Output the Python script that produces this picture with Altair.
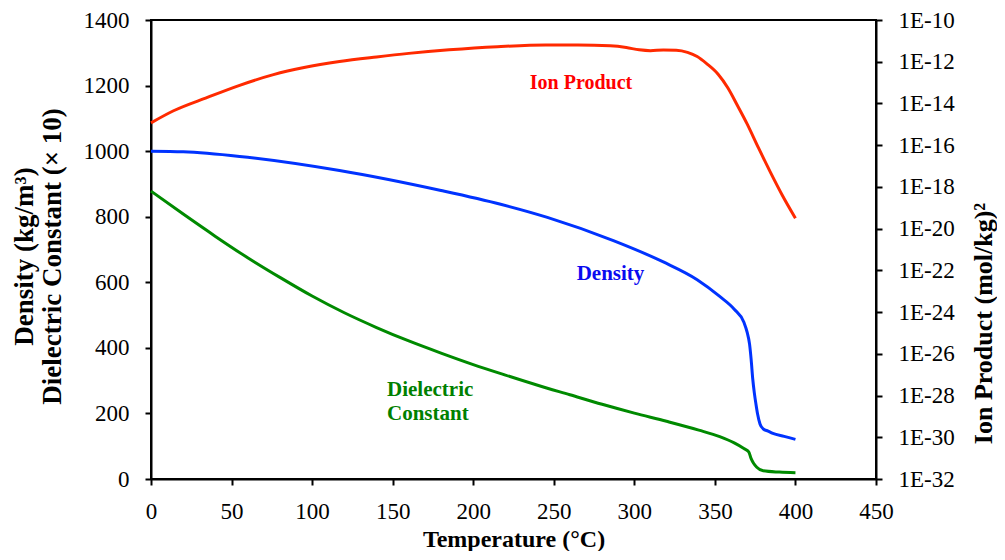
import altair as alt
import pandas as pd

# ---- data ----
dens_T = [0, 20, 55, 117, 180, 217, 246, 287, 318, 339, 353, 362, 368, 370, 371.5, 372.5,
          373.5, 374.5, 375.5, 376.5, 378, 380, 383, 386, 393, 400]
dens_v = [1000, 998, 984, 941, 880, 838, 798, 727, 662, 608, 557, 518, 478, 448, 412, 365,
          305, 262, 228, 198, 168, 153, 146, 139, 130, 121]

diel_T = [0, 20, 40, 60, 80, 100, 120, 140, 160, 180, 200, 220, 240, 260, 280, 300, 320, 340,
          353, 362, 368, 371, 372.5, 374, 376, 380, 390, 400]
diel_v = [878, 808, 740, 675, 615, 558, 507, 462, 421, 384, 349, 317, 286, 257, 228, 201, 176, 149,
          129, 110, 93, 83, 62, 48, 36, 25, 21, 19]

ion_T = [0, 14, 35, 55, 76, 95, 117, 140, 160, 185, 215, 245, 265, 285, 295, 303, 310, 318,
         326, 333, 339, 345, 352, 358, 364, 370, 377, 384.5, 392, 400]
ion_log = [-14.93, -14.35, -13.71, -13.13, -12.62, -12.28, -11.99, -11.77, -11.60, -11.43, -11.28,
           -11.20, -11.20, -11.24, -11.32, -11.43, -11.47, -11.44, -11.45, -11.55, -11.75, -12.10,
           -12.60, -13.25, -14.10, -14.98, -16.12, -17.30, -18.42, -19.50]

x_ticks = [0, 50, 100, 150, 200, 250, 300, 350, 400, 450]
left_ticks = [0, 200, 400, 600, 800, 1000, 1200, 1400]
ion_ticks = [1e-32, 1e-30, 1e-28, 1e-26, 1e-24, 1e-22, 1e-20, 1e-18, 1e-16, 1e-14, 1e-12, 1e-10]

lab_ion = {"text": ["Ion Product"], "T": [266.9], "v": [1208]}
lab_dens = {"text": ["Density"], "T": [285.2], "v": [625]}
lab_diel = {"text": ["Dielectric", "Constant"], "T": [146.5, 146.5], "v": [271, 197]}

# ---- tables ----
dens_df = pd.DataFrame({"T": dens_T, "v": dens_v})
diel_df = pd.DataFrame({"T": diel_T, "v": diel_v})
ion_df = pd.DataFrame({"T": ion_T, "v": [10 ** e for e in ion_log]})

FONT = "Liberation Serif"
common_axis = dict(labelFont=FONT, labelFontSize=23, labelColor="black", labelFlush=False,
                   titleFont=FONT, titleFontWeight="bold", titleColor="black")

x_enc = alt.X(
    "T:Q",
    scale=alt.Scale(domain=[0, 450], nice=False),
    axis=alt.Axis(
        values=x_ticks, format="d", title="Temperature (°C)", labelPadding=15,
        titleY=67, titleBaseline="alphabetic", titleFontSize=24, **common_axis,
    ),
)

yl_enc = alt.Y(
    "v:Q",
    scale=alt.Scale(domain=[0, 1400], nice=False),
    axis=alt.Axis(
        values=left_ticks, format="d", orient="left", labelPadding=16,
        title=["Density (kg/m³)", "Dielectric Constant (× 10)"],
        titleFontSize=27, titleLineHeight=28.5, titleAngle=270,
        titleBaseline="top", titleAlign="center", titleX=-140, titleY=236,
        **common_axis,
    ),
)

yr_enc = alt.Y(
    "v:Q",
    scale=alt.Scale(type="log", domain=[1e-32, 1e-10], nice=False),
    axis=alt.Axis(
        values=ion_ticks, orient="right", labelPadding=16,
        labelExpr="'1E' + round(log(datum.value) / LN10)",
        title="Ion Product (mol/kg)²", titleFontSize=26, titleAngle=270,
        titleBaseline="alphabetic", titleAlign="center", titleX=115, titleY=303,
        **common_axis,
    ),
)

dens_line = alt.Chart(dens_df).mark_line(
    color="#0033FF", strokeWidth=3, interpolate="monotone").encode(x=x_enc, y=yl_enc)
diel_line = alt.Chart(diel_df).mark_line(
    color="#008A00", strokeWidth=3, interpolate="monotone").encode(x=x_enc, y=yl_enc)

t_ion = alt.Chart(pd.DataFrame(lab_ion)).mark_text(
    font=FONT, fontSize=20, fontWeight="bold", color="#FF0000",
    align="center", baseline="middle").encode(x=x_enc, y=yl_enc, text="text:N")
t_dens = alt.Chart(pd.DataFrame(lab_dens)).mark_text(
    font=FONT, fontSize=21, fontWeight="bold", color="#0A0AF0",
    align="center", baseline="middle").encode(x=x_enc, y=yl_enc, text="text:N")
t_diel = alt.Chart(pd.DataFrame(lab_diel)).mark_text(
    font=FONT, fontSize=21, fontWeight="bold", color="#008000",
    align="left", baseline="middle").encode(x=x_enc, y=yl_enc, text="text:N")

left = alt.layer(dens_line, diel_line, t_ion, t_dens, t_diel)

ion_line = alt.Chart(ion_df).mark_line(
    color="#FF2A00", strokeWidth=3, interpolate="monotone").encode(x=x_enc, y=yr_enc)

chart = (
    alt.layer(left, ion_line)
    .resolve_scale(y="independent")
    .properties(
        width=725, height=459,
        autosize=alt.AutoSizeParams(type="none"),
        padding={"left": 143, "top": 12, "right": 121, "bottom": 72},
        background="white",
    )
    .configure_view(stroke="black", strokeWidth=2)
    .configure_axis(
        grid=False, domainColor="black", domainWidth=2, tickColor="black",
        tickWidth=2, tickSize=6,
    )
)

chart.save("out.html", embed_options={"renderer": "svg", "actions": False})
